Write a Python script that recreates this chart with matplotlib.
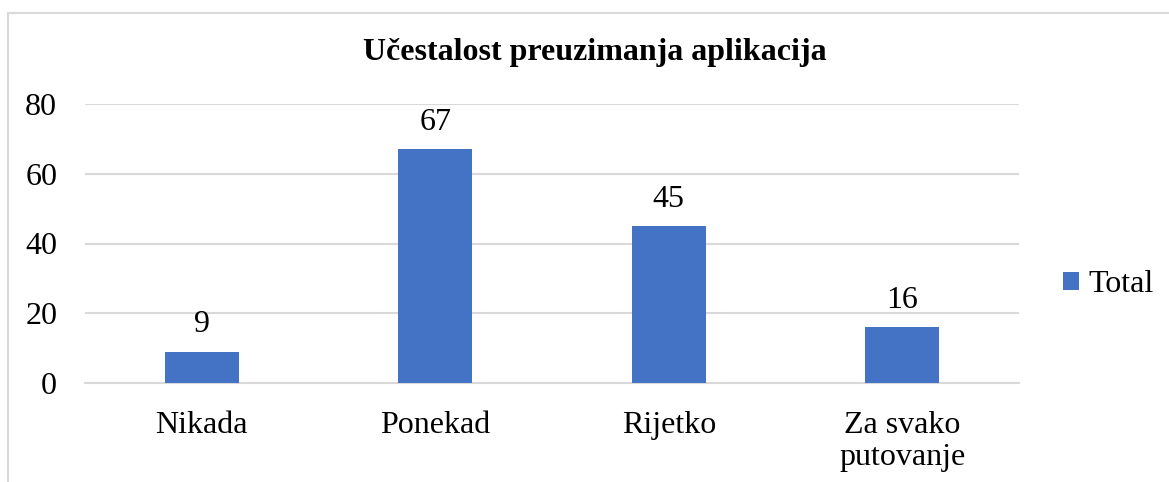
import matplotlib
matplotlib.use("Agg")
import matplotlib.pyplot as plt
from matplotlib.patches import Rectangle

categories = ["Nikada", "Ponekad", "Rijetko", "Za svako\nputovanje"]
values = [9, 67, 45, 16]
yticks = [0, 20, 40, 60, 80]
title = "Učestalost preuzimanja aplikacija"
series_name = "Total"

plt.rcParams['font.family'] = ['Liberation Serif', 'DejaVu Serif']

W, H = 1169, 482
FS = 23
fig = plt.figure(figsize=(W / 100, H / 100), dpi=100)
ax = fig.add_axes([85 / W, 1 - 383 / H, (1019 - 85) / W, (383 - 104) / H])

color = "#4472C4"
x = list(range(len(categories)))
bars = ax.bar(x, values, width=0.316, color=color, label=series_name, zorder=3)
for xi, v in zip(x, values):
    ax.annotate(str(v), (xi, v), xytext=(0, 9), textcoords="offset points",
                ha="center", va="bottom", fontsize=FS, color="black")

ax.set_xlim(-0.5, len(categories) - 0.5)
ax.set_ylim(0, 80)
ax.set_yticks(yticks)
ax.set_yticklabels([str(t) for t in yticks], fontsize=FS)
ax.set_xticks(x)
ax.set_xticklabels(categories, fontsize=FS, linespacing=1.1)
ax.tick_params(axis="both", length=0)
ax.tick_params(axis="y", pad=20)
ax.tick_params(axis="x", pad=20.5)
ax.grid(axis="y", color="#D9D9D9", linewidth=1.5, zorder=0)
for s in ["top", "right", "left"]:
    ax.spines[s].set_visible(False)
ax.spines["bottom"].set_color("#D9D9D9")
ax.spines["bottom"].set_linewidth(1.5)

fig.text(595 / W, 1 - 52 / H, title, ha="center", va="center", fontsize=FS, fontweight="bold")

leg = fig.legend(handles=[bars], labels=[series_name], loc="center left",
                 bbox_to_anchor=(1063 / W, 1 - 285 / H), frameon=False,
                 fontsize=FS, handlelength=0.5, handleheight=0.5, handletextpad=0.3,
                 borderpad=0, borderaxespad=0)

fig.patches.append(Rectangle((8 / W, -0.1), 1.2, 1 - 13 / H + 0.1, transform=fig.transFigure,
                             fill=False, edgecolor="#D9D9D9", linewidth=1.5))

fig.savefig("out.png", dpi=100)
